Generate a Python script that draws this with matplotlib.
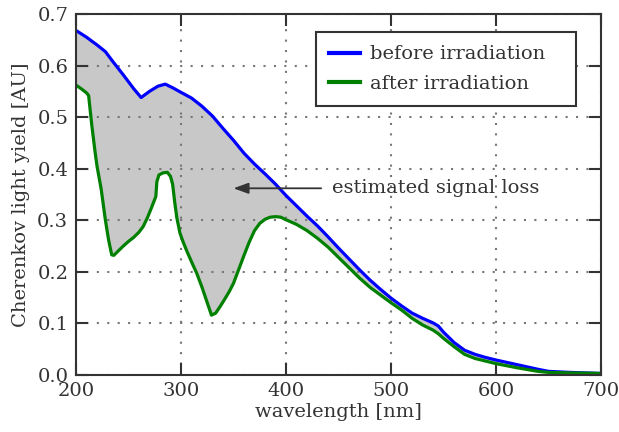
import numpy as np
import matplotlib
matplotlib.use("Agg")
import matplotlib.pyplot as plt

# ---- data ----
wl_before = [200, 210, 220, 228, 235, 245, 255, 262, 270, 278, 285, 292, 300,
             310, 320, 330, 340, 350, 360, 370, 380, 390, 400, 410, 420, 430,
             440, 450, 460, 470, 480, 490, 500, 510, 520, 530, 540, 545, 550,
             560, 570, 580, 590, 600, 620, 640, 650, 670, 700]
before = [0.668, 0.655, 0.640, 0.627, 0.608, 0.582, 0.555, 0.538, 0.550, 0.560,
          0.564, 0.557, 0.548, 0.537, 0.521, 0.502, 0.478, 0.455, 0.430, 0.409,
          0.390, 0.370, 0.348, 0.328, 0.308, 0.289, 0.268, 0.246, 0.225, 0.204,
          0.184, 0.166, 0.149, 0.134, 0.120, 0.110, 0.101, 0.095, 0.083, 0.063,
          0.048, 0.040, 0.034, 0.029, 0.020, 0.011, 0.007, 0.005, 0.003]

wl_after = [200, 205, 210, 212, 215, 218, 220, 224, 228, 231, 234, 236, 240,
            245, 250, 255, 260, 264, 268, 272, 276, 277, 279, 283, 287, 290,
            292, 294, 296, 299, 302, 306, 311, 315, 320, 325, 329, 333, 337,
            341, 346, 350, 355, 360, 365, 370, 375, 380, 385, 390, 395, 400,
            410, 420, 430, 440, 450, 460, 470, 480, 490, 500, 510, 520, 530,
            540, 545, 550, 560, 570, 580, 590, 600, 620, 640, 650, 670, 700]
after = [0.562, 0.555, 0.547, 0.542, 0.485, 0.435, 0.405, 0.360, 0.300, 0.262,
         0.233, 0.232, 0.240, 0.250, 0.259, 0.267, 0.277, 0.288, 0.305, 0.325,
         0.346, 0.375, 0.388, 0.392, 0.393, 0.385, 0.370, 0.335, 0.305, 0.275,
         0.258, 0.238, 0.215, 0.197, 0.170, 0.140, 0.116, 0.120, 0.132, 0.145,
         0.162, 0.178, 0.205, 0.232, 0.258, 0.280, 0.294, 0.302, 0.306, 0.307,
         0.306, 0.301, 0.292, 0.280, 0.265, 0.248, 0.228, 0.208, 0.188, 0.170,
         0.155, 0.140, 0.126, 0.110, 0.097, 0.087, 0.080, 0.071, 0.055, 0.040,
         0.032, 0.027, 0.022, 0.014, 0.007, 0.005, 0.004, 0.003]

labels = ["before irradiation", "after irradiation"]
xticks = [200, 300, 400, 500, 600, 700]
yticks = [0.0, 0.1, 0.2, 0.3, 0.4, 0.5, 0.6, 0.7]
annot_text = "estimated signal loss"
annot_tip = (350, 0.362)
annot_from = (444, 0.362)

# ---- style ----
plt.rcParams['font.family'] = ['DejaVu Serif']
plt.rcParams['font.size'] = 14
TXT = '#333333'

fig = plt.figure(figsize=(6.19, 4.32), dpi=100)
ax = fig.add_axes([0.1228, 0.132, 0.8482, 0.8356])

poly_x = np.concatenate([wl_before, wl_after[::-1]])
poly_y = np.concatenate([before, after[::-1]])
ax.fill(poly_x, poly_y, color='#c8c8c8', lw=0, zorder=1)

ax.plot(wl_before, before, color='#0000ff', lw=2.3, label=labels[0], zorder=3,
        solid_joinstyle='round')
ax.plot(wl_after, after, color='#008000', lw=2.3, label=labels[1], zorder=3,
        solid_joinstyle='round')

ax.set_xlim(200, 700)
ax.set_ylim(0.0, 0.7)
ax.set_xticks(xticks)
ax.set_yticks(yticks)
ax.set_yticklabels([f"{v:.1f}" for v in yticks])

ax.grid(True, color='#777777', linestyle=(0, (1, 4)), linewidth=1.5, zorder=2)
ax.set_axisbelow(False)

for s in ax.spines.values():
    s.set_color(TXT)
    s.set_linewidth(1.5)
    s.set_zorder(5)
ax.tick_params(direction='in', length=8.5, width=1.5, color=TXT,
               top=True, right=True, labelcolor=TXT)
ax.tick_params(axis='x', pad=5)
ax.tick_params(axis='y', pad=5.5)

ax.set_xlabel("wavelength [nm]", color=TXT, labelpad=2)
ax.set_ylabel("Cherenkov light yield [AU]", color=TXT, labelpad=5)

ax.annotate(annot_text, xy=annot_tip, xytext=annot_from, va='center', ha='left',
            color=TXT, zorder=6,
            arrowprops=dict(arrowstyle='-|>,head_length=0.6,head_width=0.22',
                            color=TXT, lw=1.3, mutation_scale=15,
                            shrinkA=6, shrinkB=0))

leg = ax.legend(loc='upper left', bbox_to_anchor=(0.457, 0.0, 0.495, 0.949),
                mode='expand', borderaxespad=0, fancybox=False, framealpha=1,
                edgecolor=TXT, handlelength=1.6, labelspacing=0.6,
                handletextpad=0.5, borderpad=0.67)
leg.get_frame().set_linewidth(1.5)
for t in leg.get_texts():
    t.set_color(TXT)
for l in leg.get_lines():
    l.set_linewidth(3)

fig.savefig("out.png", dpi=100)
